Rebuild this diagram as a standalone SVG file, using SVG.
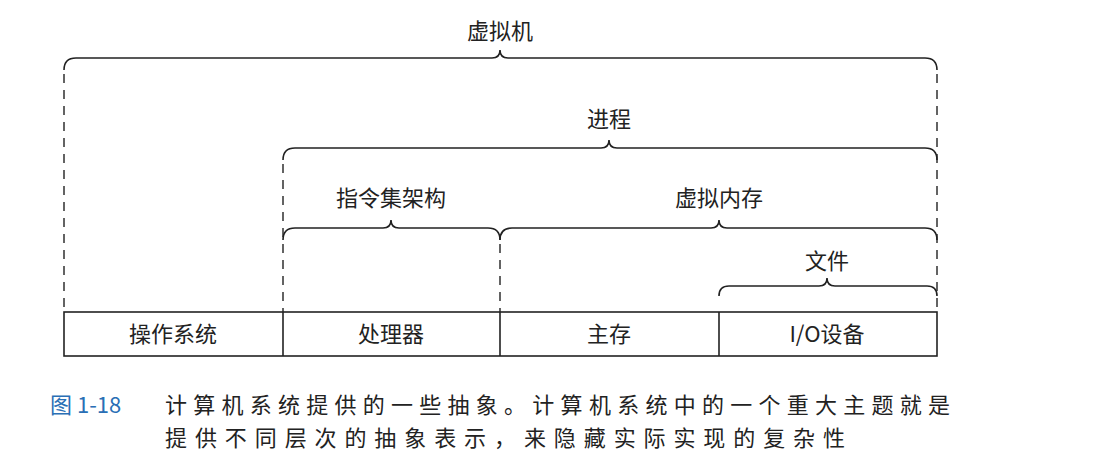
<svg xmlns="http://www.w3.org/2000/svg" width="1093" height="469" viewBox="0 0 1093 469">
<style>
.b{fill:none;stroke:#222;stroke-width:1.6}
.d{fill:none;stroke:#222;stroke-width:1.4;stroke-dasharray:9,7}
text{font-family:"Noto Sans CJK SC","Liberation Sans",sans-serif;font-size:22px;fill:#222;text-anchor:middle}
.c{text-anchor:start;font-size:22px}
</style>
<rect width="1093" height="469" fill="#fff"/>
<g id="connectors">
<path class="b" d="M64,70 Q64,58 76,58 L492,58 Q500,58 500,50 Q500,58 508,58 L925,58 Q937,58 937,70"/>
<path class="b" d="M283,160 Q283,148 295,148 L601,148 Q609,148 609,140 Q609,148 617,148 L925,148 Q937,148 937,160"/>
<path class="b" d="M283,240 Q283,228 295,228 L383,228 Q391,228 391,220 Q391,228 399,228 L488,228 Q500,228 500,240"/>
<path class="b" d="M500,240 Q500,228 512,228 L711,228 Q719,228 719,220 Q719,228 727,228 L925,228 Q937,228 937,240"/>
<path class="b" d="M719,296 Q719,286 729,286 L819,286 Q827,286 827,278 Q827,286 835,286 L927,286 Q937,286 937,296"/>
<path class="d" d="M64,74 V312 M937,74 V312 M283,164 V312 M500,244 V312"/>
</g>
<g id="node-vm"><text x="500" y="39">虚拟机</text></g>
<g id="node-proc"><text x="609" y="127">进程</text></g>
<g id="node-isa"><text x="391" y="206">指令集架构</text></g>
<g id="node-vmem"><text x="719" y="206">虚拟内存</text></g>
<g id="node-file"><text x="827" y="269">文件</text></g>
<g id="node-boxes">
<rect class="b" x="64" y="312" width="873" height="44"/>
<path class="b" d="M283,312 V356 M500,312 V356 M719,312 V356"/>
<text x="173" y="342">操作系统</text>
<text x="391" y="342">处理器</text>
<text x="609" y="342">主存</text>
<text x="827" y="342">I/O设备</text>
</g>
<g id="caption">
<text class="c" x="50" y="413" style="fill:#2a6fb5">图 1-18</text>
<text class="c" x="165" y="413" textLength="785" lengthAdjust="spacing">计算机系统提供的一些抽象。计算机系统中的一个重大主题就是</text>
<text class="c" x="165" y="446" textLength="680" lengthAdjust="spacing">提供不同层次的抽象表示，来隐藏实际实现的复杂性</text>
</g>
</svg>
